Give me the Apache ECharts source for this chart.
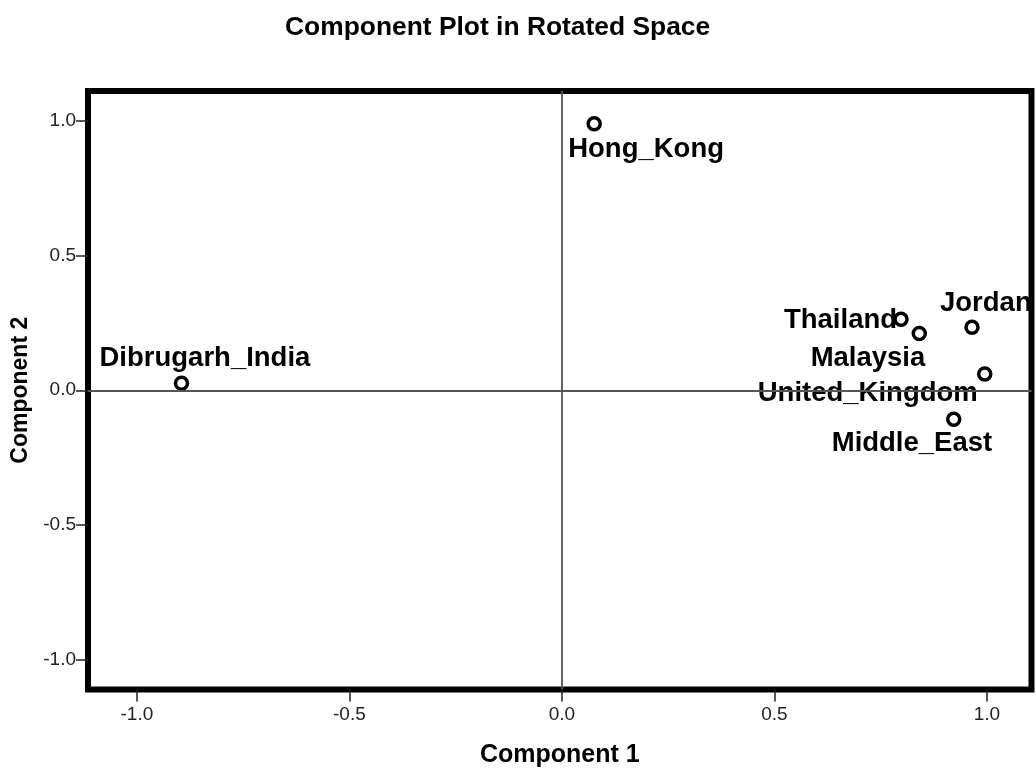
<!DOCTYPE html>
<html>
<head>
<meta charset="utf-8">
<title>Component Plot in Rotated Space</title>
<script src="https://cdn.jsdelivr.net/npm/echarts@6/dist/echarts.min.js"></script>
<style>
  html, body { margin: 0; padding: 0; background: #fff; }
  #chart { width: 1036px; height: 771px; }
</style>
</head>
<body>
<div id="chart"></div>
<script>
// Rotated component loadings per location
const locations = ['Hong_Kong', 'Dibrugarh_India', 'Thailand', 'Malaysia', 'Jordan', 'United_Kingdom', 'Middle_East'];
const component1 = [0.076, -0.895, 0.798, 0.841, 0.965, 0.995, 0.922];
const component2 = [0.990, 0.026, 0.264, 0.211, 0.234, 0.060, -0.108];
const tickValues = [-1.0, -0.5, 0.0, 0.5, 1.0];

// Where each point's name sits relative to its marker centre
const labelPlacement = {
  Hong_Kong:       { align: 'left',  dx: -26,  dy: 26 },
  Dibrugarh_India: { align: 'left',  dx: -82,  dy: -25 },
  Thailand:        { align: 'right', dx: -4,   dy: 1 },
  Malaysia:        { align: 'right', dx: 6,    dy: 25 },
  Jordan:          { align: 'left',  dx: -32,  dy: -24 },
  United_Kingdom:  { align: 'right', dx: -7,   dy: 19 },
  Middle_East:     { align: 'left',  dx: -122, dy: 24 }
};

const FONT = "'Liberation Sans', Arial, sans-serif";

const points = locations.map((name, i) => ({
  name: name,
  value: [component1[i], component2[i]]
}));

const chart = echarts.init(document.getElementById('chart'), null, { renderer: 'canvas' });

const axisCommon = {
  type: 'value',
  splitLine: { show: false },
  axisLine: { show: false, onZero: false },
  axisTick: {
    show: true,
    length: 12,
    customValues: tickValues,
    lineStyle: { color: '#222', width: 1.5 }
  },
  axisLabel: {
    customValues: tickValues,
    formatter: v => v.toFixed(1),
    color: '#222',
    fontFamily: FONT,
    fontSize: 19
  },
  nameLocation: 'middle',
  nameTextStyle: { color: '#000', fontFamily: FONT, fontWeight: 'bold' }
};

chart.setOption({
  backgroundColor: '#fff',
  animation: false,
  title: {
    text: 'Component Plot in Rotated Space',
    left: 280,
    top: 10,
    textStyle: { color: '#000', fontFamily: FONT, fontWeight: 'bold', fontSize: 26.4 }
  },
  grid: {
    left: 88,
    right: 4.5,
    top: 91,
    bottom: 81.5,
    containLabel: false,
    outerBoundsMode: 'none',
    show: true,
    borderColor: '#000',
    borderWidth: 6,
    backgroundColor: '#fff'
  },
  xAxis: Object.assign({}, axisCommon, {
    min: -1.115,
    max: 1.105,
    name: 'Component 1',
    nameGap: 53,
    axisLabel: Object.assign({}, axisCommon.axisLabel, { margin: 16 }),
    nameTextStyle: Object.assign({}, axisCommon.nameTextStyle, { fontSize: 25 })
  }),
  yAxis: Object.assign({}, axisCommon, {
    min: -1.112,
    max: 1.112,
    name: 'Component 2',
    nameGap: 51,
    axisLabel: Object.assign({}, axisCommon.axisLabel, { margin: 12 }),
    nameTextStyle: Object.assign({}, axisCommon.nameTextStyle, { fontSize: 23 })
  }),
  series: [{
    type: 'scatter',
    data: points,
    symbol: 'circle',
    symbolSize: 12,
    itemStyle: { color: '#fff', borderColor: '#000', borderWidth: 3.5, opacity: 1 },
    label: {
      show: true,
      position: 'inside',
      verticalAlign: 'middle',
      formatter: p => p.name,
      color: '#000',
      fontFamily: FONT,
      fontWeight: 'bold',
      fontSize: 27.5
    },
    labelLayout: function (params) {
      const place = labelPlacement[locations[params.dataIndex]];
      return {
        hideOverlap: false,
        align: place.align,
        verticalAlign: 'middle',
        dx: place.dx,
        dy: place.dy
      };
    },
    markLine: {
      silent: true,
      symbol: 'none',
      label: { show: false },
      lineStyle: { color: '#555', width: 1.8, type: 'solid' },
      data: [{ xAxis: 0 }, { yAxis: 0 }]
    },
    z: 3
  }]
});
</script>
</body>
</html>
